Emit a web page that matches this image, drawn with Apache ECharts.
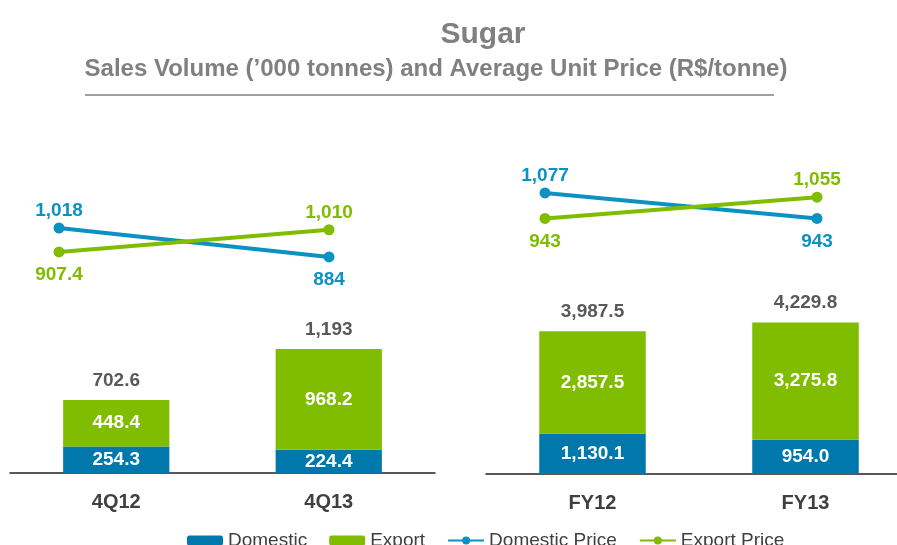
<!DOCTYPE html>
<html>
<head>
<meta charset="utf-8">
<script src="https://cdn.jsdelivr.net/npm/echarts@6/dist/echarts.min.js"></script>
<style>
  html, body { margin: 0; padding: 0; background: #fff; }
  #main { width: 897px; height: 545px; }
</style>
</head>
<body>
<div id="main"></div>
<script>
// quarter panel
const qCategories = ["4Q12", "4Q13"];
const qDomestic = [254.3, 224.4];
const qExport = [448.4, 968.2];
const qTotal = [702.6, 1193];
const qDomesticPrice = [1018, 884];
const qExportPrice = [907.4, 1010];

// fiscal year panel
const fyCategories = ["FY12", "FY13"];
const fyDomestic = [1130.1, 954.0];
const fyExport = [2857.5, 3275.8];
const fyTotal = [3987.5, 4229.8];
const fyDomesticPrice = [1077, 943];
const fyExportPrice = [943, 1055];

const BLUE = "#0078ab";
const BLUE_LINE = "#0b92c3";
const GREEN = "#80bc00";
const FONT = "Liberation Sans";

function fmt(v, dec) {
  return v.toLocaleString("en-US", { minimumFractionDigits: dec, maximumFractionDigits: 1 });
}

const chart = echarts.init(document.getElementById("main"));

function barSeries(name, data, color, idx, stack) {
  return {
    name: name,
    type: "bar",
    stack: stack,
    xAxisIndex: idx,
    yAxisIndex: idx,
    barWidth: "50%",
    data: data,
    itemStyle: { color: color },
    label: {
      show: true,
      position: "inside",
      color: "#fff",
      fontWeight: "bold",
      fontSize: 19,
      fontFamily: FONT,
      formatter: (p) => fmt(p.value, 1),
    },
  };
}

function totalSeries(totals, idx, stack) {
  return {
    name: "Total",
    type: "bar",
    stack: stack,
    xAxisIndex: idx,
    yAxisIndex: idx,
    barWidth: "50%",
    data: totals.map(() => 0),
    itemStyle: { color: "transparent" },
    label: {
      show: true,
      position: "top",
      distance: 10,
      color: "#595959",
      fontWeight: "bold",
      fontSize: 19,
      fontFamily: FONT,
      formatter: (p) => fmt(totals[p.dataIndex], 0),
    },
  };
}

function lineSeries(name, data, other, color, idx) {
  return {
    name: name,
    type: "line",
    xAxisIndex: idx,
    yAxisIndex: idx,
    symbol: "circle",
    symbolSize: 11,
    lineStyle: { width: 4, color: color },
    itemStyle: { color: color },
    data: data.map((v, i) => ({
      value: v,
      label: { position: v >= other[i] ? "top" : "bottom", distance: v >= other[i] ? 2 : 8 },
    })),
    label: {
      show: true,
      color: color,
      fontWeight: "bold",
      fontSize: 19,
      fontFamily: FONT,
      formatter: (p) => fmt(p.value, 0),
    },
  };
}

const catAxis = (data, idx) => ({
  type: "category",
  gridIndex: idx,
  data: data,
  axisLine: { lineStyle: { color: "#222", width: 1.5 } },
  axisTick: { show: false },
  axisLabel: { color: "#404040", fontWeight: "bold", fontSize: 20, fontFamily: FONT, margin: 19 },
});

const hiddenX = (data, idx) => ({
  type: "category",
  gridIndex: idx,
  data: data,
  boundaryGap: false,
  show: false,
});

const hiddenY = (idx, min, max) => ({
  type: "value",
  gridIndex: idx,
  min: min,
  max: max,
  show: false,
  splitLine: { show: false },
});

const option = {
  animation: false,
  textStyle: { fontFamily: FONT },
  graphic: [
    {
      type: "text",
      x: 483,
      y: 35,
      style: {
        text: "Sugar",
        font: "bold 30px Liberation Sans",
        fill: "#808080",
        align: "center",
        verticalAlign: "middle",
      },
    },
    {
      type: "text",
      x: 436,
      y: 69,
      style: {
        text: "Sales Volume (\u2019000 tonnes) and Average Unit Price (R$/tonne)",
        font: "bold 24px Liberation Sans",
        fill: "#808080",
        align: "center",
        verticalAlign: "middle",
      },
    },
    {
      type: "line",
      shape: { x1: 85, y1: 95, x2: 774, y2: 95 },
      style: { stroke: "#a0a0a0", lineWidth: 2 },
    },
  ],
  legend: {
    data: ["Domestic", "Export", "Domestic Price", "Export Price"],
    left: 187,
    top: 531,
    padding: 0,
    itemWidth: 36,
    itemHeight: 10,
    itemGap: 22,
    textStyle: { color: "#404040", fontSize: 19, fontFamily: FONT },
  },
  grid: [
    { left: 10, width: 425, top: 327.4, height: 145.6, outerBoundsMode: "none" },
    { left: 486, width: 426, top: 295, height: 179, outerBoundsMode: "none" },
    { left: 59, width: 270, top: 210.3, height: 64.8, outerBoundsMode: "none" },
    { left: 545, width: 272, top: 188.6, height: 57, outerBoundsMode: "none" },
  ],
  xAxis: [
    catAxis(qCategories, 0),
    catAxis(fyCategories, 1),
    hiddenX(qCategories, 2),
    hiddenX(fyCategories, 3),
  ],
  yAxis: [
    hiddenY(0, 0, 1400),
    hiddenY(1, 0, 5000),
    hiddenY(2, 800, 1100),
    hiddenY(3, 800, 1100),
  ],
  series: [
    barSeries("Domestic", qDomestic, BLUE, 0, "q"),
    barSeries("Export", qExport, GREEN, 0, "q"),
    totalSeries(qTotal, 0, "q"),
    barSeries("Domestic", fyDomestic, BLUE, 1, "fy"),
    barSeries("Export", fyExport, GREEN, 1, "fy"),
    totalSeries(fyTotal, 1, "fy"),
    lineSeries("Domestic Price", qDomesticPrice, qExportPrice, BLUE_LINE, 2),
    lineSeries("Export Price", qExportPrice, qDomesticPrice, GREEN, 2),
    lineSeries("Domestic Price", fyDomesticPrice, fyExportPrice, BLUE_LINE, 3),
    lineSeries("Export Price", fyExportPrice, fyDomesticPrice, GREEN, 3),
  ],
};

chart.setOption(option);
</script>
</body>
</html>
